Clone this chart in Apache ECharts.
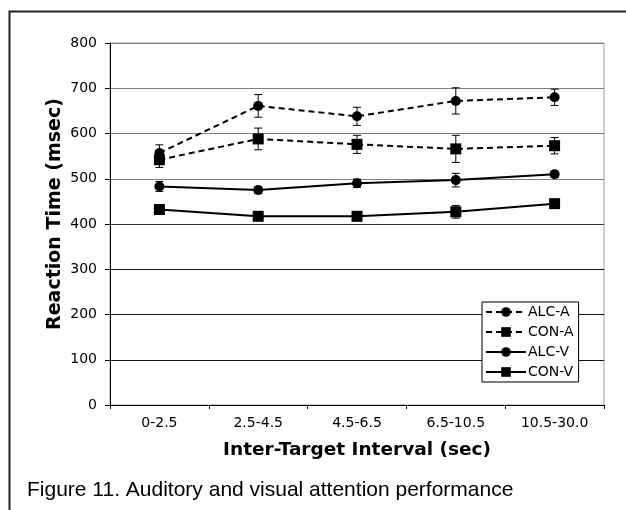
<!DOCTYPE html>
<html>
<head>
<meta charset="utf-8">
<script src="https://cdn.jsdelivr.net/npm/echarts@6/dist/echarts.min.js"></script>
<style>
  html, body { margin: 0; padding: 0; background: #fff; }
  #chart { width: 626px; height: 510px; }
</style>
</head>
<body>
<div id="chart"></div>
<script>
// Inter-target interval bins (sec)
const categories = ['0-2.5', '2.5-4.5', '4.5-6.5', '6.5-10.5', '10.5-30.0'];
const yTicks = [0, 100, 200, 300, 400, 500, 600, 700, 800];

// Mean reaction times (msec)
const alcA = [557, 661, 638, 672, 680];
const conA = [542, 588, 576, 566, 573];
const alcV = [483, 475, 490, 497, 510];
const conV = [432, 417, 417, 427, 445];

// Error half-widths (msec)
const alcAErr = [18, 25, 20, 29, 18];
const conAErr = [17, 24, 20, 30, 18];
const alcVErr = [11, 8, 9, 15, 7];
const conVErr = [8, 7, 7, 14, 7];

const DASH = [6, 4];

function lineSeries(name, values, symbol, size, dashed) {
  return {
    name: name,
    type: 'line',
    data: values,
    symbol: symbol,
    symbolSize: size,
    z: 3,
    itemStyle: { color: '#000' },
    lineStyle: { color: '#000', width: 2, type: dashed ? DASH : 'solid' },
    emphasis: { disabled: true }
  };
}

function errorSeries(values, errs) {
  return {
    type: 'custom',
    z: 2,
    silent: true,
    data: values.map((v, i) => [i, v - errs[i], v + errs[i]]),
    renderItem: function (params, api) {
      const lo = api.coord([api.value(0), api.value(1)]);
      const hi = api.coord([api.value(0), api.value(2)]);
      const cap = 4;
      const style = { stroke: '#000', lineWidth: 1 };
      return {
        type: 'group',
        children: [
          { type: 'line', shape: { x1: lo[0], y1: lo[1], x2: hi[0], y2: hi[1] }, style: style },
          { type: 'line', shape: { x1: hi[0] - cap, y1: hi[1], x2: hi[0] + cap, y2: hi[1] }, style: style },
          { type: 'line', shape: { x1: lo[0] - cap, y1: lo[1], x2: lo[0] + cap, y2: lo[1] }, style: style }
        ]
      };
    }
  };
}

const chart = echarts.init(document.getElementById('chart'), null, { renderer: 'canvas' });

chart.setOption({
  animation: false,
  backgroundColor: '#fff',
  grid: {
    left: 110, right: 22, top: 43, bottom: 105,
    show: true, borderColor: '#a0a0a0', borderWidth: 1
  },
  xAxis: {
    type: 'category',
    data: categories,
    boundaryGap: true,
    name: 'Inter-Target Interval (sec)',
    nameLocation: 'middle',
    nameGap: 36,
    nameTextStyle: { fontFamily: 'DejaVu Sans', fontWeight: 'bold', fontSize: 18.5, color: '#000' },
    axisLine: { lineStyle: { color: '#000', width: 1 } },
    axisTick: { show: true, length: 4, alignWithLabel: false, lineStyle: { color: '#000' } },
    axisLabel: { margin: 11, fontFamily: 'DejaVu Sans', fontSize: 14, color: '#000' },
    splitLine: { show: false }
  },
  yAxis: {
    type: 'value',
    min: yTicks[0],
    max: yTicks[yTicks.length - 1],
    interval: yTicks[1] - yTicks[0],
    axisLine: { show: true, lineStyle: { color: '#000', width: 1 } },
    axisTick: { show: true, length: 5, lineStyle: { color: '#000' } },
    axisLabel: { margin: 13, fontFamily: 'DejaVu Sans', fontSize: 14, color: '#000' },
    splitLine: {
      show: true,
      lineStyle: {
        width: 1,
        color: ['#000', '#111', '#111', '#111', '#333', '#808080', '#808080', '#808080', '#808080']
      }
    }
  },
  legend: {
    orient: 'vertical',
    left: 482,
    top: 302,
    data: ['ALC-A', 'CON-A', 'ALC-V', 'CON-V'],
    backgroundColor: '#fff',
    borderColor: '#000',
    borderWidth: 1,
    borderRadius: 0,
    padding: [3, 5, 3, 3],
    itemWidth: 40,
    itemHeight: 12,
    itemGap: 6,
    selectedMode: false,
    textStyle: { fontFamily: 'DejaVu Sans', fontSize: 14, color: '#000', padding: [0, 0, 0, -3] }
  },
  graphic: [
    {
      type: 'rect',
      left: 7, top: 9,
      shape: { x: 0, y: 0, width: 700, height: 600 },
      style: { fill: 'none', stroke: '#222', lineWidth: 2 },
      silent: true
    },
    {
      type: 'text',
      x: 55, y: 214,
      rotation: Math.PI / 2,
      style: {
        text: 'Reaction Time (msec)',
        font: 'bold 19px "DejaVu Sans"',
        fill: '#000',
        align: 'center',
        verticalAlign: 'middle'
      }
    },
    {
      type: 'text',
      x: 27, y: 490,
      style: {
        text: 'Figure 11. Auditory and visual attention performance',
        font: '21px "Liberation Sans"',
        fill: '#000',
        align: 'left',
        verticalAlign: 'middle'
      }
    }
  ],
  series: [
    errorSeries(alcA, alcAErr),
    errorSeries(conA, conAErr),
    errorSeries(alcV, alcVErr),
    errorSeries(conV, conVErr),
    lineSeries('ALC-A', alcA, 'circle', 10, true),
    lineSeries('CON-A', conA, 'rect', 11, true),
    lineSeries('ALC-V', alcV, 'circle', 10, false),
    lineSeries('CON-V', conV, 'rect', 11, false)
  ]
});
</script>
</body>
</html>
